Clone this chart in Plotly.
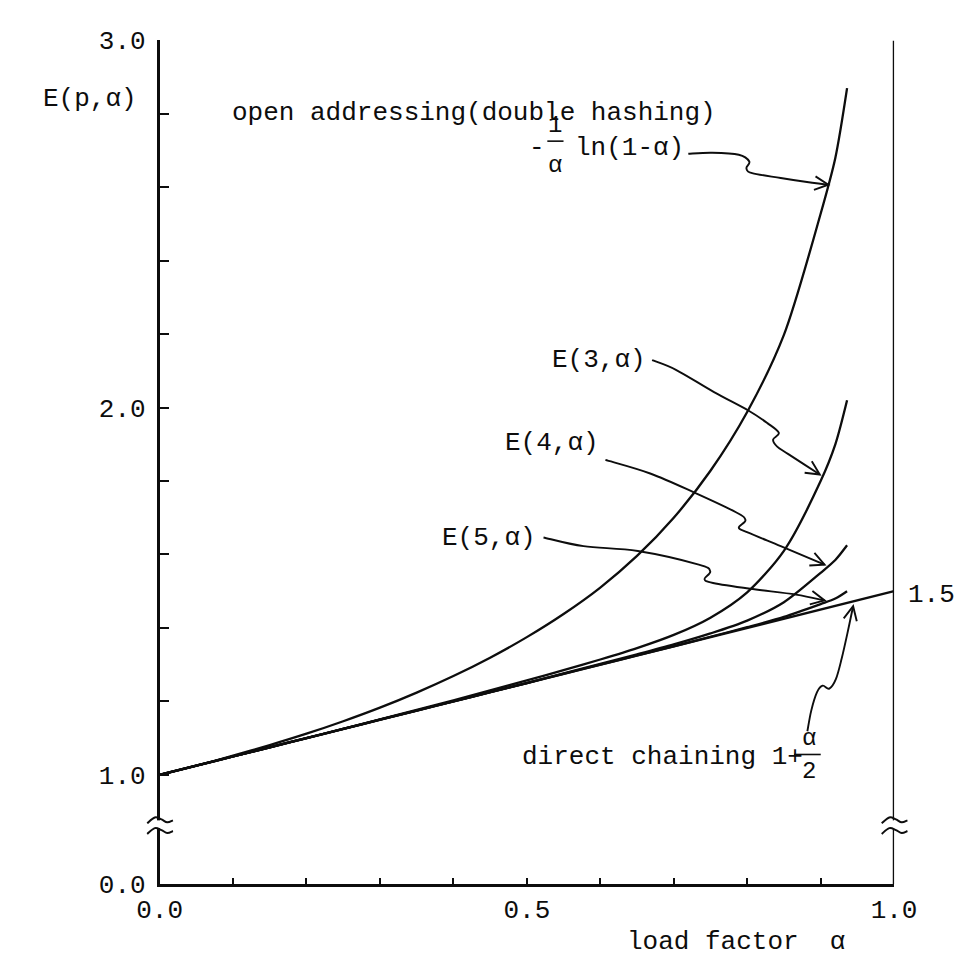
import math
import plotly.graph_objects as go

# ---------------- data ----------------
alpha = [0.0, 0.05, 0.1, 0.15, 0.2, 0.25, 0.3, 0.35, 0.4, 0.45, 0.5, 0.55, 0.6, 0.65,
         0.7, 0.75, 0.8, 0.85, 0.9, 0.92, 0.936]
open_addressing = [1.00, 1.025, 1.052, 1.081, 1.112, 1.146, 1.183, 1.224, 1.269, 1.319, 1.375,
                   1.438, 1.510, 1.596, 1.700, 1.828, 1.988, 2.198, 2.528, 2.68, 2.87]
e3 = [1.00, 1.025, 1.05, 1.075, 1.10, 1.125, 1.151, 1.177, 1.203, 1.23, 1.257, 1.285,
      1.314, 1.345, 1.381, 1.428, 1.497, 1.61, 1.80, 1.90, 2.02]
e4 = [1.00, 1.025, 1.05, 1.075, 1.10, 1.125, 1.15, 1.175, 1.20, 1.225, 1.25, 1.276,
      1.302, 1.328, 1.355, 1.385, 1.42, 1.47, 1.55, 1.585, 1.625]
e5 = [1.00, 1.025, 1.05, 1.075, 1.10, 1.125, 1.15, 1.175, 1.20, 1.225, 1.25, 1.275,
      1.30, 1.325, 1.35, 1.376, 1.402, 1.43, 1.465, 1.48, 1.50]
chain_alpha = [0.0, 1.0]
chain = [1.0, 1.5]

x_tickvals = [0.0, 0.1, 0.2, 0.3, 0.4, 0.5, 0.6, 0.7, 0.8, 0.9, 1.0]
x_ticktext = ["0.0", "", "", "", "", "0.5", "", "", "", "", "1.0"]
y_floor = 0.7018   # where the broken axis shows "0.0"
y_tickvals = [y_floor, 1.0, 1.2, 1.4, 1.6, 1.8, 2.0, 2.2, 2.4, 2.6, 2.8, 3.0]
y_ticktext = ["0.0", "1.0", "", "", "", "", "2.0", "", "", "", "", "3.0"]

# ---------------- layout geometry (pixels) ----------------
W, H = 971, 966
PX_L, PX_R = 135, 906
PX_T, PX_B = 20, 891
FONT = "Liberation Mono, Courier New, monospace"
FS = 26
INK = "#0d0d0d"

fig = go.Figure()
for ys in (open_addressing, e3, e4, e5):
    fig.add_trace(go.Scatter(x=alpha, y=ys, mode="lines",
                             line=dict(color=INK, width=2.3, shape="spline", smoothing=0.8),
                             hoverinfo="skip"))
fig.add_trace(go.Scatter(x=chain_alpha, y=chain, mode="lines",
                         line=dict(color=INK, width=2.3), hoverinfo="skip"))
# helper overlay axes in pixel space (for hand-drawn decorations)
fig.add_trace(go.Scatter(x=[], y=[], xaxis="x2", yaxis="y2", hoverinfo="skip"))

shapes = []
annotations = []


def catmull(points):
    d = "M %.2f,%.2f" % points[0]
    n = len(points)
    for i in range(n - 1):
        p0 = points[i - 1] if i > 0 else points[i]
        p1 = points[i]
        p2 = points[i + 1]
        p3 = points[i + 2] if i + 2 < n else p2
        c1 = (p1[0] + (p2[0] - p0[0]) / 6, p1[1] + (p2[1] - p0[1]) / 6)
        c2 = (p2[0] - (p3[0] - p1[0]) / 6, p2[1] - (p3[1] - p1[1]) / 6)
        d += " C %.2f,%.2f %.2f,%.2f %.2f,%.2f" % (c1 + c2 + p2)
    return d


def pxshape(path, width=1.9):
    shapes.append(dict(type="path", xref="x2", yref="y2", path=path,
                       line=dict(color=INK, width=width), layer="above"))


def arrow(points, head=16, ang=26):
    pxshape(catmull(points))
    tx, ty = points[-1]
    px, py = points[-2]
    a = math.atan2(py - ty, px - tx)
    w1 = (tx + head * math.cos(a + math.radians(ang)), ty + head * math.sin(a + math.radians(ang)))
    w2 = (tx + head * math.cos(a - math.radians(ang)), ty + head * math.sin(a - math.radians(ang)))
    pxshape("M %.2f,%.2f L %.2f,%.2f L %.2f,%.2f" % (w1 + (tx, ty) + w2))


def text(s, x, y, xanchor="left", size=FS):
    annotations.append(dict(text=s, x=x, y=y, xref="x2", yref="y2", xanchor=xanchor,
                            yanchor="middle", showarrow=False, borderpad=0,
                            font=dict(family=FONT, size=size, color=INK)))


# right-hand axis
shapes.append(dict(type="line", xref="x", yref="y", x0=1.0, x1=1.0, y0=y_floor, y1=3.0,
                   line=dict(color=INK, width=2.6), layer="above"))

# axis breaks
for ax in (PX_L, PX_R):
    shapes.append(dict(type="rect", xref="x2", yref="y2", x0=ax - 4, x1=ax + 4, y0=825, y1=833,
                       fillcolor="white", line=dict(width=0), layer="above"))
    for dy in (0, 11):
        pxshape(catmull([(ax - 13, 828 + dy), (ax - 5, 822 + dy), (ax + 2, 824 + dy),
                         (ax + 8, 827 + dy), (ax + 14, 825 + dy)]), width=2.0)

# labels
text("E(p,α)", 12, 80)
text("open addressing(double hashing)", 210, 95)
text("-", 531, 131, xanchor="center")
text("1", 550, 108, xanchor="center", size=24)
text("α", 550, 149, xanchor="center", size=24)
pxshape("M 542,124 L 559,124", width=1.6)
text("ln(1-α)", 570, 131)
text("E(3,α)", 546, 350)
text("E(4,α)", 496, 436)
text("E(5,α)", 430, 534)
text("direct chaining 1+", 514, 760)
text("α", 817, 740, xanchor="center", size=24)
pxshape("M 801,757 L 829,757", width=1.6)
text("2", 817, 775, xanchor="center", size=24)
text("1.5", 920, 592)
text("load factor  α", 625, 950)

# arrows
arrow([(690, 137), (715, 136), (743, 138), (754, 145), (751, 152), (757, 157),
       (787, 162), (820, 167), (837, 169)])
arrow([(652, 350), (677, 360), (717, 383), (753, 402), (773, 415), (785, 425),
       (779, 432), (783, 439), (795, 447), (828, 468)])
arrow([(603, 453), (650, 467), (697, 487), (740, 507), (750, 515), (743, 523),
       (753, 528), (787, 542), (833, 561)])
arrow([(538, 533), (580, 542), (637, 547), (701, 561), (713, 568), (707, 576),
       (716, 580), (755, 586), (803, 592), (833, 598)])
arrow([(815, 733), (819, 712), (825, 693), (831, 686), (838, 689), (845, 679),
       (851, 658), (857, 632), (863, 604)])

fig.update_layout(
    width=W, height=H,
    margin=dict(l=0, r=0, t=0, b=0),
    paper_bgcolor="white", plot_bgcolor="rgba(0,0,0,0)",
    showlegend=False, hovermode=False,
    font=dict(family=FONT, size=FS, color=INK),
    xaxis=dict(domain=[PX_L / W, PX_R / W], range=[0, 1], anchor="y",
               showgrid=False, zeroline=False, showline=True, linecolor=INK, linewidth=2.6,
               ticks="inside", ticklen=7, tickwidth=2, tickcolor=INK,
               tickvals=x_tickvals, ticktext=x_ticktext,
               tickfont=dict(family=FONT, size=FS, color=INK)),
    yaxis=dict(domain=[(H - PX_B) / H, (H - PX_T) / H], range=[y_floor, 3.0], anchor="x",
               showgrid=False, zeroline=False, showline=True, linecolor=INK, linewidth=2.6,
               ticks="inside", ticklen=10, tickwidth=2, tickcolor=INK,
               tickvals=y_tickvals, ticktext=y_ticktext, ticklabelstandoff=6,
               tickfont=dict(family=FONT, size=FS, color=INK)),
    xaxis2=dict(domain=[0, 1], range=[0, W], visible=False, anchor="y2"),
    yaxis2=dict(domain=[0, 1], range=[H, 0], visible=False, anchor="x2"),
    shapes=shapes,
    annotations=annotations,
)

fig.write_html("out.html")
